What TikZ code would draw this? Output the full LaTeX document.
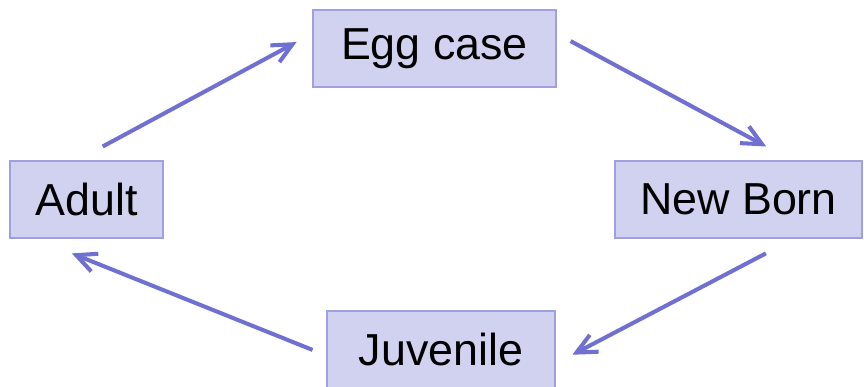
\documentclass[tikz,border=0pt]{standalone}
\usepackage{fontspec}
\setmainfont{Liberation Sans}
\usepackage{tikz}
\usetikzlibrary{arrows.meta,positioning,calc}
\definecolor{boxfill}{RGB}{209,209,240}
\definecolor{boxline}{RGB}{160,160,225}
\definecolor{arrowblue}{RGB}{112,112,210}
\tikzstyle{Stage}=[shape=rectangle,draw=boxline,line width=0.6pt,fill=boxfill,minimum height=1.54cm,inner sep=0pt,font=\fontsize{25.5}{30}\selectfont]
\tikzstyle{cycleedge}=[-{Straight Barb[length=0.4cm,width=0.38cm]},arrowblue,line width=2.3pt]

\begin{document}
\begin{tikzpicture}

\useasboundingbox (0,0) rectangle (17.28,-7.74);

\node[Stage,minimum width=4.86cm] (EGG) at (8.69,-0.97){Egg case};

\node[Stage,minimum width=3.06cm] (ADULT) at (1.73,-3.99){Adult};

\node[Stage,minimum width=4.94cm] (NEWBORN) at (14.77,-3.99){New Born};

\node[Stage,minimum width=4.56cm] (JUVENILE) at (8.82,-6.99){Juvenile};

 \path

(ADULT.104) edge [cycleedge,shorten <=0.59cm,shorten >=0.36cm] (EGG.173)
(EGG.7) edge [cycleedge,shorten <=0.32cm,shorten >=0.59cm] (NEWBORN.36)
(NEWBORN.-35) edge [cycleedge,shorten <=0.64cm,shorten >=0.38cm] (JUVENILE.-7)
(JUVENILE.183) edge [cycleedge,shorten <=0.30cm,shorten >=0.80cm] (ADULT.217);

\end{tikzpicture}
\end{document}
